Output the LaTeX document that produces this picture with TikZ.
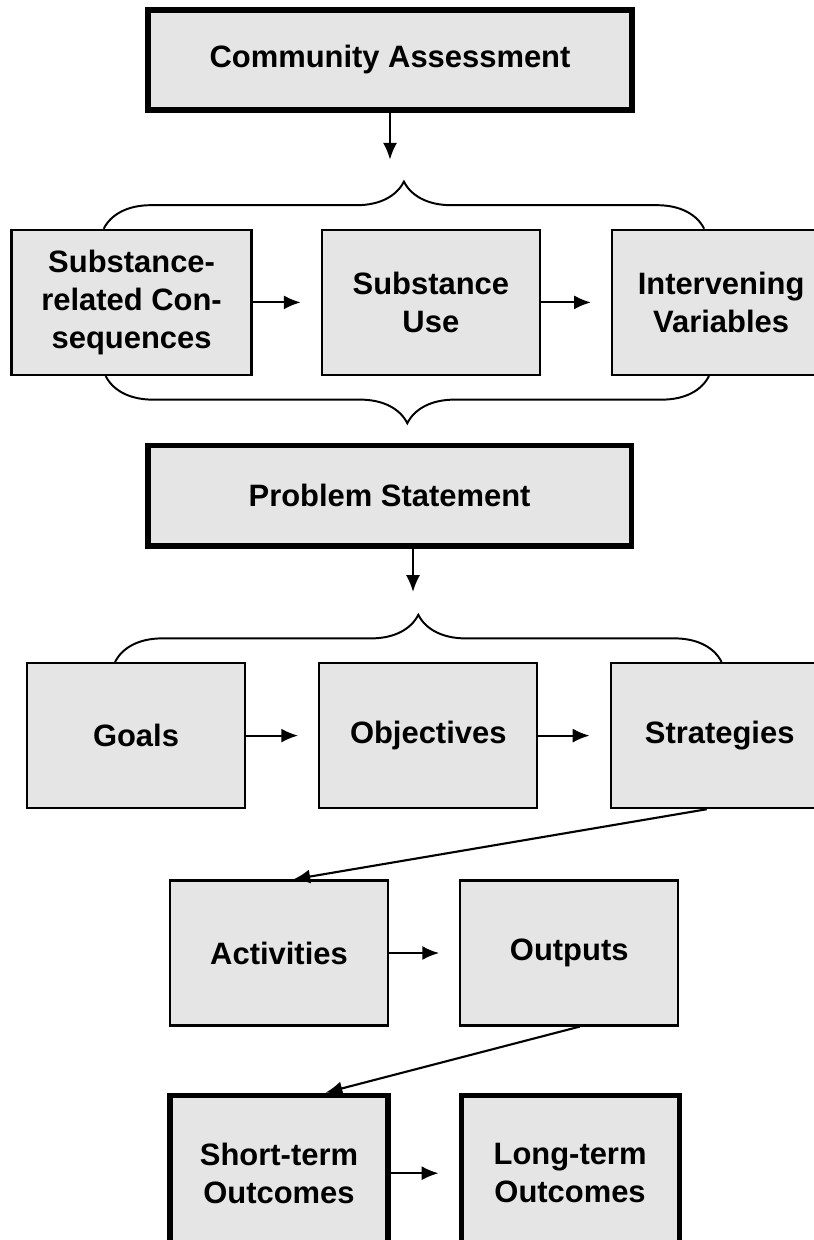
\documentclass[tikz,border=0pt]{standalone}
\usepackage{fontspec}
\setmainfont{Liberation Sans}
\usetikzlibrary{positioning}
\usetikzlibrary{calc}
\usetikzlibrary{arrows.meta}
\usetikzlibrary{decorations.pathreplacing}

\begin{document}
\begin{tikzpicture}[node distance=1.75cm,>={Latex[length=12pt,width=10pt]},
    box/.style={draw,line width=1.6pt,fill=black!10,align=center,
      minimum width=5.45cm,minimum height=3.625cm,inner sep=2pt,
      font=\fontsize{22}{27}\selectfont\bfseries},
    bigbox/.style={box,line width=3.6pt},
    arr/.style={->,line width=1.5pt,shorten >=0.5cm},
    link/.style={->,line width=1.5pt},
    grp/.style={decorate,line width=1.4pt,decoration={brace,amplitude=1.18cm}}]
    \fill[white] (0,0) rectangle (20.35,-31);
    \useasboundingbox (0,0) rectangle (20.35,-31);

    % assessment and its three parts
    \node (ca) [bigbox,minimum width=12.1cm,minimum height=2.5cm] at (9.75,-1.5) {Community Assessment};
    \node (src) [box,minimum width=6cm] at (3.29,-7.56) {Substance-\\related Con-\\sequences};
    \node (use) [box,right=1.7cm of src] {Substance\\Use};
    \node (ivar) [box,right=of use] {Intervening\\Variables};

    % problem statement and plan
    \node (ps) [bigbox,minimum width=12.08cm,minimum height=2.52cm] at (9.74,-12.39) {Problem Statement};
    \node (goals) [box] at (3.4,-18.39) {Goals};
    \node (obj) [box,right=1.8cm of goals] {Objectives};
    \node (strat) [box,right=1.78cm of obj] {Strategies};

    \node (act) [box] at (6.975,-23.825) {Activities};
    \node (out) [box,right=of act] {Outputs};

    \node (st) [bigbox,minimum height=3.9cm] at (6.975,-29.33) {Short-term\\Outcomes};
    \node (lt) [bigbox,minimum height=3.9cm,right=1.7cm of st] {Long-term\\Outcomes};

    \coordinate (caend) at ($(ca.south)+(0,-1.18)$);
    \coordinate (psend) at (10.325,-14.8);

    % braces
    \draw[grp] ($(src.north west)+(2.33,0)$) -- ($(ivar.north west)+(2.33,0)$);
    \draw[grp] ($(ivar.south west)+(2.45,0)$) -- ($(src.south west)+(2.38,0)$);
    \draw[grp] ($(goals.north west)+(2.23,0)$) -- ($(strat.north west)+(2.8,0)$);

    \draw[link] (ca) -- (caend);
    \draw[link] (ps.south -| psend) -- (psend);
    \draw[arr] (src) -- (use);
    \draw[arr] (use) -- (ivar);
    \draw[arr] (goals) -- (obj);
    \draw[arr] (obj) -- (strat);
    \draw[link] (strat.260) -- (act.79);
    \draw[arr] (act) -- (out);
    \draw[link] (out.278) -- (st.60);
    \draw[arr] (st) -- (lt);
\end{tikzpicture}
\end{document}
